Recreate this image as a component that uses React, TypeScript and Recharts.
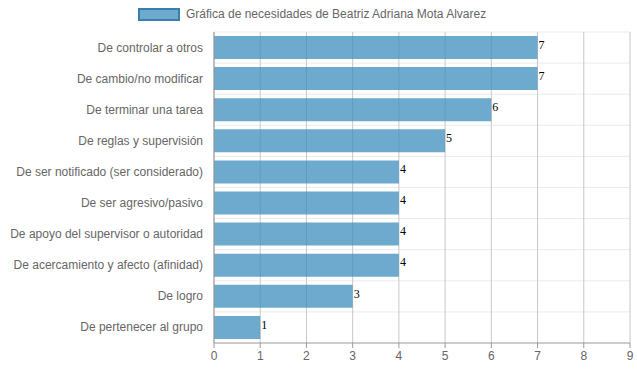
import React from "react";
import {
  BarChart,
  Bar,
  XAxis,
  YAxis,
  CartesianGrid,
  LabelList,
} from "recharts";

const categories = [
  "De controlar a otros",
  "De cambio/no modificar",
  "De terminar una tarea",
  "De reglas y supervisión",
  "De ser notificado (ser considerado)",
  "De ser agresivo/pasivo",
  "De apoyo del supervisor o autoridad",
  "De acercamiento y afecto (afinidad)",
  "De logro",
  "De pertenecer al grupo",
];
const values = [7, 7, 6, 5, 4, 4, 4, 4, 3, 1];
const xTicks = [0, 1, 2, 3, 4, 5, 6, 7, 8, 9];
const seriesName = "Gráfica de necesidades de Beatriz Adriana Mota Alvarez";

const data = categories.map((name, i) => ({ name, value: values[i] }));

const font = "'Liberation Sans', Arial, sans-serif";

// single-line category label (no wrapping)
const CatTick = ({ x, y, payload }: any) => (
  <text
    x={x}
    y={y}
    textAnchor="end"
    dominantBaseline="central"
    fill="#666"
    fontSize={12}
    fontFamily={font}
  >
    {payload.value}
  </text>
);

export default function App() {
  return (
    <div style={{ position: "relative", width: 637, height: 371, background: "#fff" }}>
      <style>{"body{margin:0}"}</style>
      {/* legend */}
      <div
        style={{
          position: "absolute",
          top: 7,
          left: 138,
          display: "flex",
          alignItems: "center",
          fontFamily: font,
          fontSize: 12,
          color: "#666",
        }}
      >
        <span
          style={{
            display: "inline-block",
            width: 38,
            height: 9,
            background: "rgba(60,141,188,0.75)",
            border: "2px solid #3a7fa9",
            marginRight: 6,
          }}
        />
        {seriesName}
      </div>
      <BarChart
        width={637}
        height={371}
        layout="vertical"
        data={data}
        margin={{ top: 32, right: 7, bottom: 0, left: 0 }}
      >
        <CartesianGrid
          stroke="#ebebeb"
          horizontalCoordinatesGenerator={({ offset }: any) =>
            categories.map((_, i) => offset.top + (i * offset.height) / categories.length)
          }
          vertical={false}
        />
        <CartesianGrid stroke="#c8c8c8" horizontal={false} />
        <XAxis
          type="number"
          domain={[0, 9]}
          ticks={xTicks}
          interval={0}
          height={28}
          tickSize={5}
          tickMargin={3}
          stroke="#999"
          tick={{ fill: "#666", fontSize: 12, fontFamily: font }}
        />
        <YAxis
          type="category"
          dataKey="name"
          width={214}
          tickLine={false}
          tickSize={9}
          tickMargin={2}
          stroke="#999"
          interval={0}
          tick={<CatTick />}
        />
        <Bar
          dataKey="value"
          name={seriesName}
          fill="rgba(60,141,188,0.75)"
          barSize={23}
          isAnimationActive={false}
        >
          <LabelList
            dataKey="value"
            position="right"
            offset={1}
            fill="#000"
            dy={-3}
            style={{ fontFamily: "'Liberation Serif', serif", fontSize: 12 }}
          />
        </Bar>
      </BarChart>
    </div>
  );
}
